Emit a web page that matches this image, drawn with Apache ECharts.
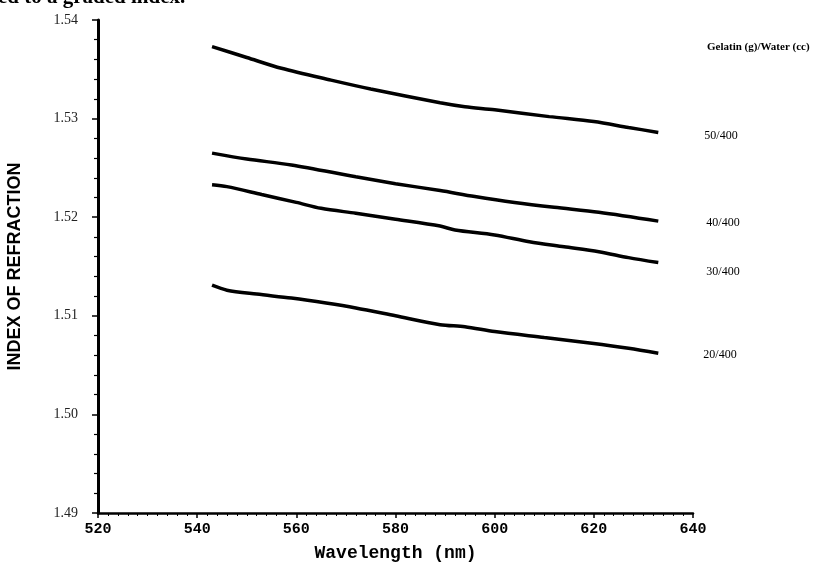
<!DOCTYPE html>
<html>
<head>
<meta charset="utf-8">
<script src="https://cdn.jsdelivr.net/npm/echarts@6/dist/echarts.min.js"></script>
<style>
  html, body { margin: 0; padding: 0; background: #fff; }
  #main { width: 813px; height: 564px; }
</style>
</head>
<body>
<div id="main"></div>
<script>
// wavelengths (nm), one list per curve
var nm50 = [543, 550, 557, 567, 575, 589, 594, 600, 611, 620, 627, 633];
var ri50 = [1.5373, 1.5362, 1.5351, 1.5339, 1.5330, 1.5316, 1.5312, 1.5309, 1.5302, 1.5297, 1.5291, 1.5286];

var nm40 = [543, 550, 559, 572, 580, 589, 596, 604, 612, 621, 633];
var ri40 = [1.5265, 1.5259, 1.5253, 1.5241, 1.5234, 1.5227, 1.5221, 1.5215, 1.5210, 1.5205, 1.5196];

var nm30 = [543, 546, 553, 560, 565, 572, 580, 589, 592, 600, 607, 614, 621, 627, 633];
var ri30 = [1.5233, 1.5231, 1.5223, 1.5215, 1.5209, 1.5204, 1.5198, 1.5191, 1.5187, 1.5182, 1.5175, 1.5170, 1.5165, 1.5159, 1.5154];

var nm20 = [543, 546, 552, 559, 566, 572, 580, 589, 594, 600, 610, 620, 627, 633];
var ri20 = [1.5131, 1.5126, 1.5122, 1.5118, 1.5113, 1.5108, 1.5100, 1.5091, 1.5089, 1.5084, 1.5078, 1.5072, 1.5067, 1.5062];

var curveNames = ['50/400', '40/400', '30/400', '20/400'];
var xTicks = [520, 540, 560, 580, 600, 620, 640];
var yTicks = ['1.49', '1.50', '1.51', '1.52', '1.53', '1.54'];

function pairs(xs, ys) {
    var out = [];
    for (var i = 0; i < xs.length; i++) out.push([xs[i], ys[i]]);
    return out;
}

var labelOffsets = [[46, 3], [48, 2], [48, 9], [45, 2]];
var curves = [pairs(nm50, ri50), pairs(nm40, ri40), pairs(nm30, ri30), pairs(nm20, ri20)];

var myChart = echarts.init(document.getElementById('main'));

var series = curves.map(function (d, i) {
    return {
        name: curveNames[i],
        type: 'line',
        data: d,
        showSymbol: false,
        smooth: 0.3,
        lineStyle: { color: '#000', width: 3.5 },
        endLabel: {
            show: true,
            formatter: curveNames[i],
            offset: labelOffsets[i],
            distance: 0,
            fontFamily: 'Liberation Serif',
            fontSize: 12,
            color: '#000'
        },
        animation: false
    };
});

var option = {
    backgroundColor: '#fff',
    animation: false,
    title: {
        text: 'Gelatin (g)/Water (cc)',
        left: 702,
        top: 37,
        textStyle: { fontFamily: 'Liberation Serif', fontSize: 11, fontWeight: 'bold', color: '#000' }
    },
    graphic: [{
        type: 'text',
        left: -2,
        top: -13,
        style: { text: 'ed to a graded index.', font: 'bold 21px "Liberation Serif"', fill: '#000' }
    }],
    grid: { left: 98, right: 120, top: 20, bottom: 51, containLabel: false, outerBoundsMode: 'none' },
    xAxis: {
        type: 'value',
        min: xTicks[0],
        max: xTicks[xTicks.length - 1],
        interval: 20,
        name: 'Wavelength (nm)',
        nameLocation: 'middle',
        nameGap: 31,
        nameTextStyle: { fontFamily: 'Liberation Mono', fontWeight: 'bold', fontSize: 18, color: '#000' },
        axisLine: { lineStyle: { color: '#000', width: 2.5 } },
        axisTick: { show: true, length: 5, lineStyle: { color: '#000', width: 1.5 } },
        minorTick: { show: true, splitNumber: 10, length: 3, lineStyle: { color: '#000', width: 1 } },
        axisLabel: { fontFamily: 'Liberation Mono', fontWeight: 'bold', fontSize: 15, color: '#000', margin: 9 },
        splitLine: { show: false }
    },
    yAxis: {
        type: 'value',
        min: 1.49,
        max: 1.54,
        interval: 0.01,
        name: 'INDEX OF REFRACTION',
        nameLocation: 'middle',
        nameGap: 74,
        nameTextStyle: { fontFamily: 'Liberation Sans', fontWeight: 'bold', fontSize: 18, color: '#000' },
        axisLine: { show: true, lineStyle: { color: '#000', width: 3 } },
        axisTick: { show: true, length: 6, lineStyle: { color: '#000', width: 1.5 } },
        minorTick: { show: true, splitNumber: 5, length: 4, lineStyle: { color: '#000', width: 1.2 } },
        axisLabel: {
            fontFamily: 'Liberation Serif',
            fontSize: 14,
            color: '#222',
            margin: 20,
            formatter: function (v) {
                var s = v.toFixed(2);
                return yTicks.indexOf(s) >= 0 ? s : '';
            }
        },
        splitLine: { show: false }
    },
    series: series
};

myChart.setOption(option);
</script>
</body>
</html>
